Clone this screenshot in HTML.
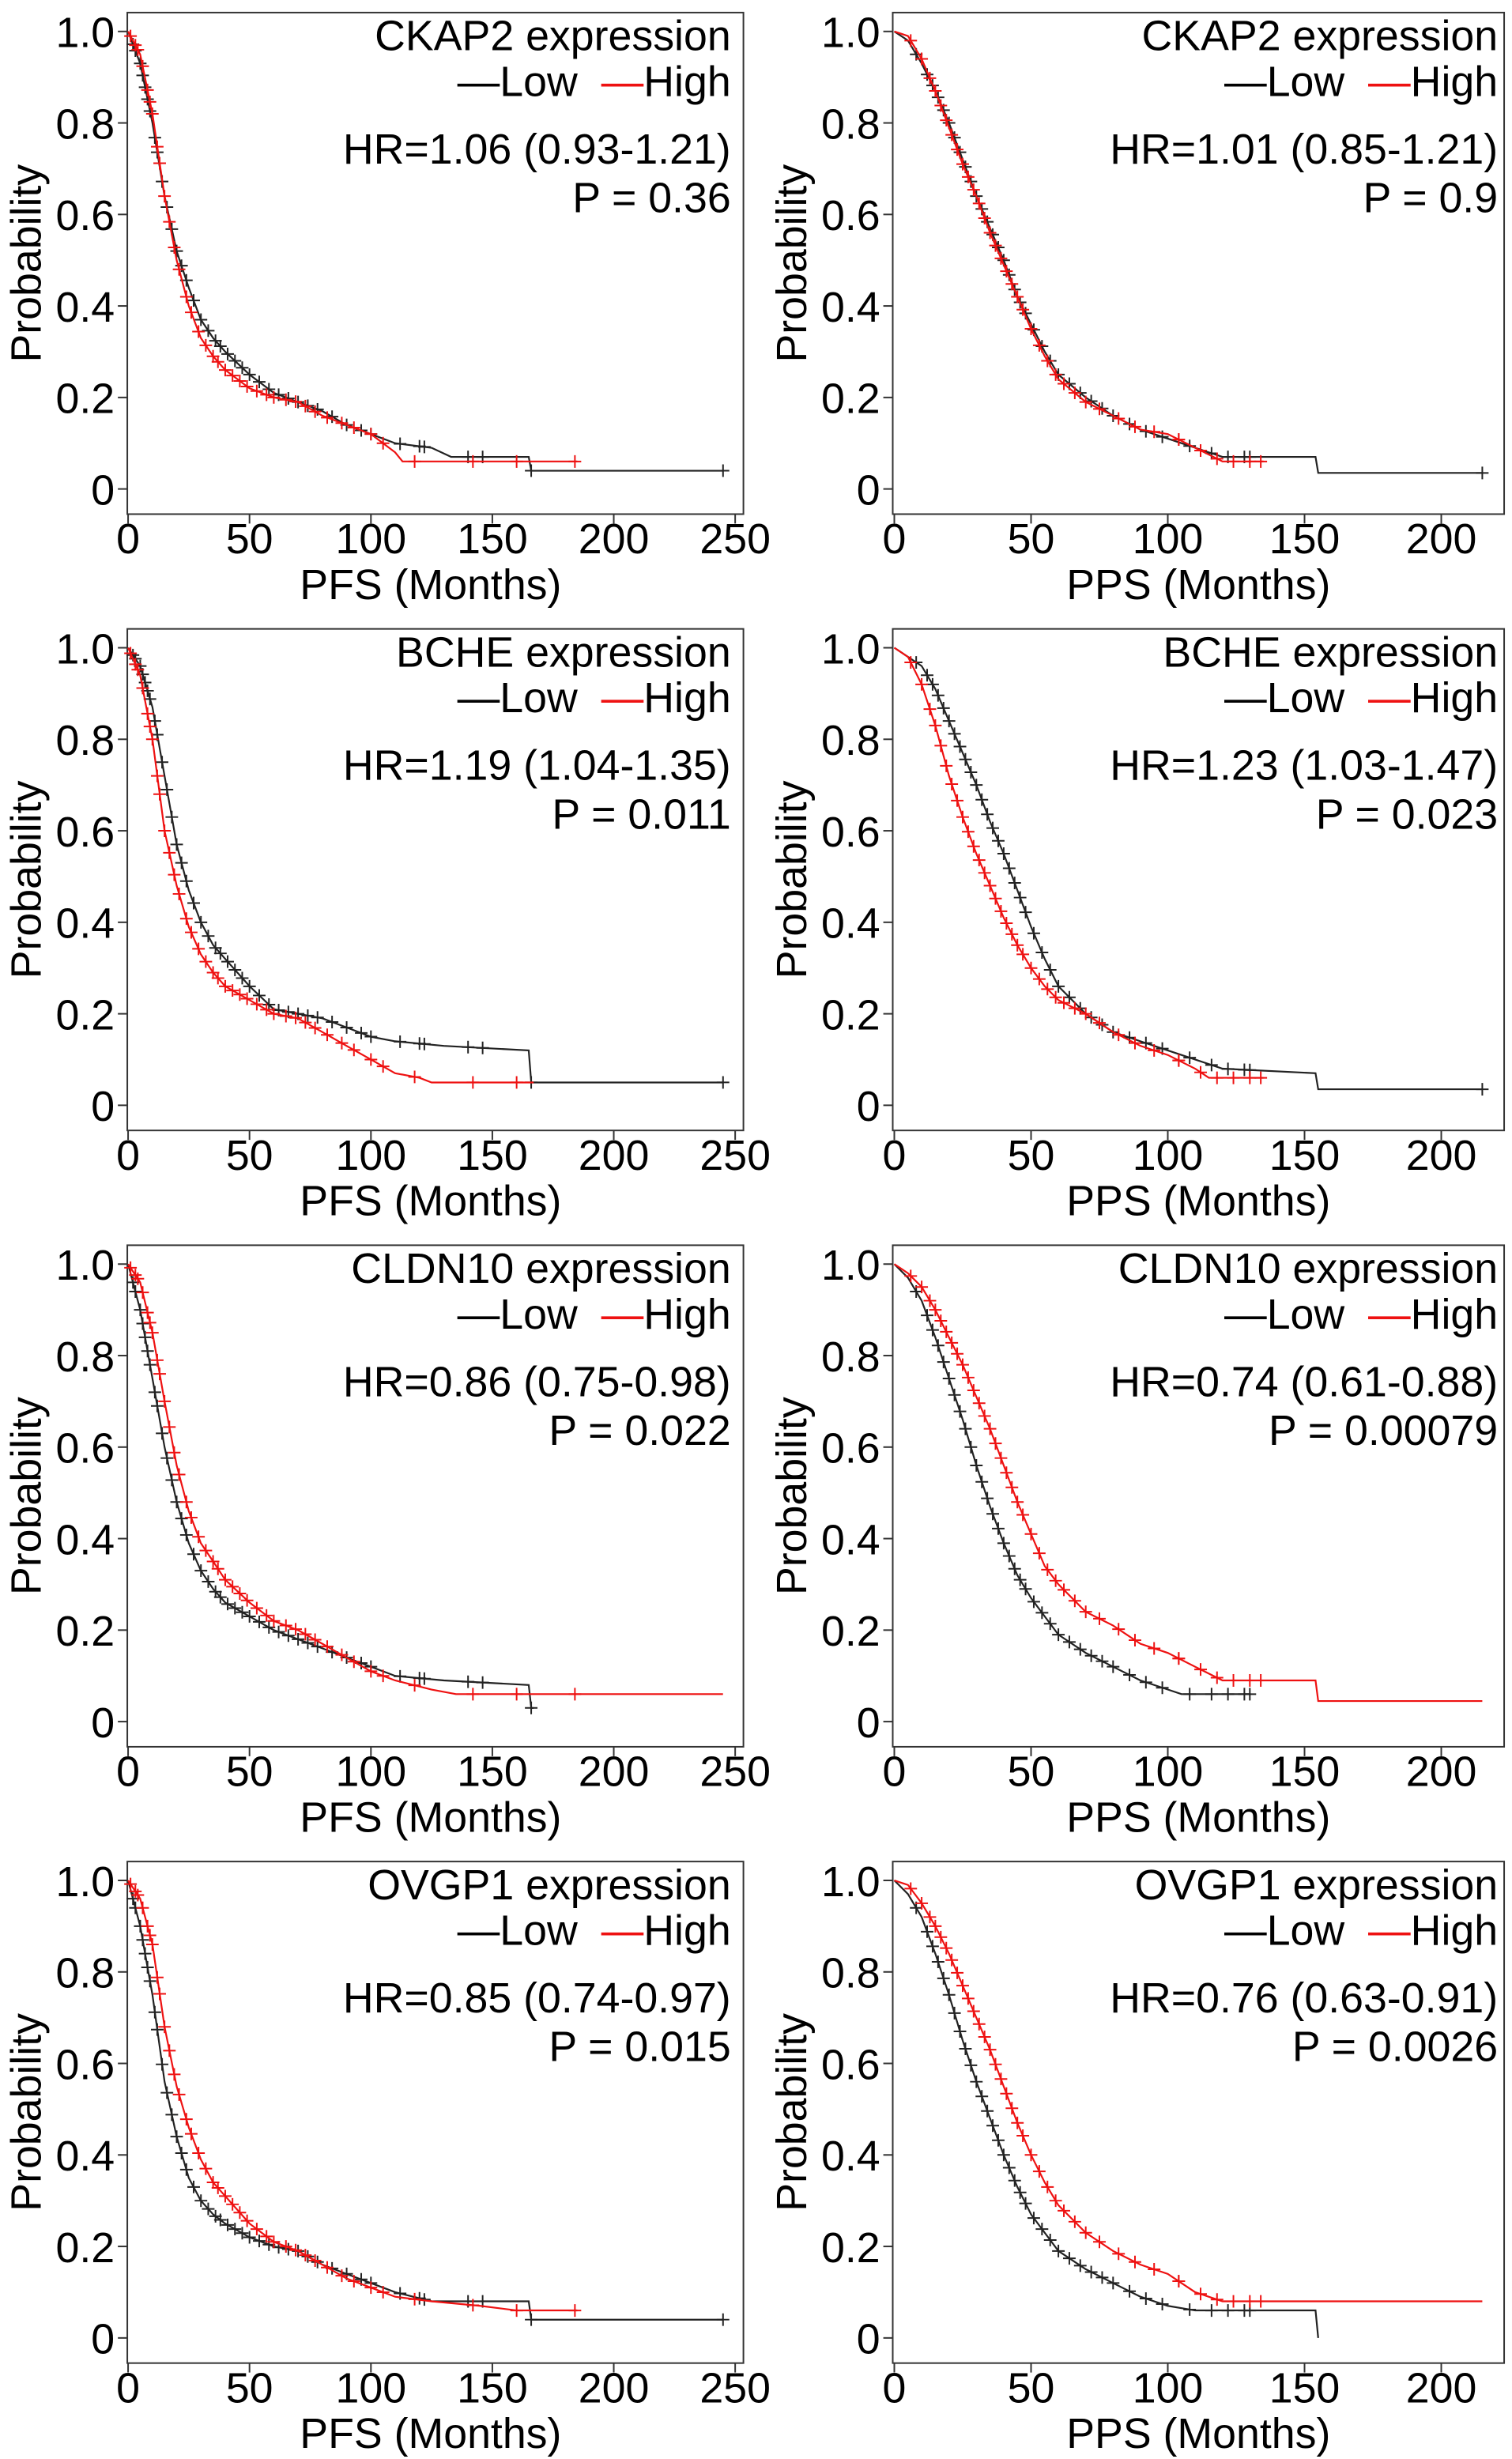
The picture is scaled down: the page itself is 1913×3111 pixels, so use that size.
<!DOCTYPE html>
<html><head><meta charset="utf-8"><title>KM curves</title>
<style>
html,body{margin:0;padding:0;background:#fff;}
svg{display:block;}
text{font-family:"Liberation Sans",Arial,sans-serif;fill:#000;}
</style></head>
<body>
<svg id="fig" xmlns="http://www.w3.org/2000/svg" width="1913" height="3111" viewBox="0 0 962 1564" preserveAspectRatio="none"></svg>
<script>
// ---- data (time in months, survival probability) ----
const genes = ["CKAP2","BCHE","CLDN10","OVGP1"];
const hrPFS = ["HR=1.06 (0.93-1.21)","HR=1.19 (1.04-1.35)","HR=0.86 (0.75-0.98)","HR=0.85 (0.74-0.97)"];
const pPFS = ["P = 0.36","P = 0.011","P = 0.022","P = 0.015"];
const hrPPS = ["HR=1.01 (0.85-1.21)","HR=1.23 (1.03-1.47)","HR=0.74 (0.61-0.88)","HR=0.76 (0.63-0.91)"];
const pPPS = ["P = 0.9","P = 0.023","P = 0.00079","P = 0.0026"];
const pfsTicks = [0,50,100,150,200,250];
const ppsTicks = [0,50,100,150,200];
const yTicks = [0,0.2,0.4,0.6,0.8,1.0];
const yTickLabels = ["0","0.2","0.4","0.6","0.8","1.0"];

const ckap2PfsLow = [[0,1],[5,0.93],[10,0.8],[15,0.64],[20,0.52],[25,0.44],[30,0.37],[35,0.33],[40,0.3],[50,0.25],[60,0.21],[70,0.19],[80,0.17],[90,0.14],[100,0.12],[110,0.1],[125,0.09],[133,0.07],[165,0.07],[166,0.04],[245,0.04]];
const ckap2PfsHigh = [[0,1],[5,0.95],[10,0.82],[15,0.64],[20,0.5],[25,0.4],[30,0.33],[35,0.29],[40,0.26],[50,0.22],[60,0.2],[70,0.19],[80,0.16],[90,0.14],[100,0.12],[105,0.1],[110,0.08],[113,0.06],[185,0.06]];
const ckap2PpsLow = [[0,1],[5,0.98],[10,0.93],[15,0.87],[20,0.8],[25,0.72],[30,0.64],[35,0.57],[40,0.5],[45,0.42],[50,0.36],[55,0.3],[60,0.25],[70,0.2],[80,0.16],[90,0.13],[100,0.11],[110,0.09],[120,0.07],[154,0.07],[155,0.035],[215,0.035]];
const ckap2PpsHigh = [[0,1],[5,0.99],[10,0.94],[15,0.87],[20,0.79],[25,0.71],[30,0.64],[35,0.56],[40,0.49],[45,0.42],[50,0.35],[55,0.29],[60,0.24],[70,0.19],[80,0.16],[90,0.13],[100,0.12],[110,0.09],[120,0.06],[135,0.06]];

const bchePfsLow = [[0,1],[5,0.96],[10,0.87],[15,0.72],[20,0.57],[25,0.47],[30,0.4],[35,0.35],[40,0.32],[50,0.26],[60,0.21],[70,0.2],[80,0.19],[90,0.17],[100,0.15],[110,0.14],[130,0.13],[165,0.12],[166,0.05],[245,0.05]];
const bchePfsHigh = [[0,1],[5,0.94],[10,0.8],[15,0.6],[20,0.48],[25,0.39],[30,0.33],[35,0.29],[40,0.26],[50,0.23],[60,0.2],[70,0.19],[80,0.16],[90,0.13],[100,0.1],[110,0.07],[120,0.06],[125,0.05],[167,0.05]];
const bchePpsLow = [[0,1],[10,0.96],[15,0.91],[20,0.84],[25,0.77],[30,0.7],[35,0.62],[40,0.55],[45,0.47],[50,0.39],[55,0.32],[60,0.26],[70,0.2],[80,0.16],[90,0.14],[100,0.12],[110,0.1],[120,0.08],[154,0.07],[155,0.035],[215,0.035]];
const bchePpsHigh = [[0,1],[5,0.98],[10,0.92],[15,0.83],[20,0.72],[25,0.63],[30,0.55],[35,0.48],[40,0.41],[45,0.35],[50,0.3],[55,0.26],[60,0.23],[70,0.2],[80,0.16],[90,0.13],[100,0.11],[110,0.08],[115,0.06],[135,0.06]];

const cldnPfsLow = [[0,1],[5,0.9],[10,0.75],[15,0.6],[20,0.48],[25,0.39],[30,0.33],[35,0.29],[40,0.26],[50,0.23],[60,0.2],[70,0.18],[80,0.16],[90,0.14],[100,0.12],[110,0.1],[130,0.09],[165,0.08],[166,0.03],[167,0.03]];
const cldnPfsHigh = [[0,1],[5,0.96],[10,0.85],[15,0.7],[20,0.56],[25,0.46],[30,0.39],[35,0.35],[40,0.31],[50,0.26],[60,0.22],[70,0.2],[80,0.17],[90,0.14],[100,0.11],[110,0.09],[125,0.07],[135,0.06],[245,0.06]];
const cldnPpsLow = [[0,1],[5,0.97],[10,0.92],[15,0.84],[20,0.75],[25,0.66],[30,0.56],[35,0.47],[40,0.39],[45,0.32],[50,0.27],[55,0.23],[60,0.19],[70,0.15],[80,0.12],[90,0.09],[100,0.07],[105,0.06],[130,0.06]];
const cldnPpsHigh = [[0,1],[5,0.98],[10,0.95],[15,0.9],[20,0.84],[25,0.78],[30,0.71],[35,0.64],[40,0.56],[45,0.48],[50,0.41],[55,0.34],[60,0.3],[70,0.24],[80,0.21],[90,0.17],[100,0.15],[110,0.12],[120,0.09],[154,0.09],[155,0.045],[215,0.045]];

const ovgpPfsLow = [[0,1],[5,0.9],[10,0.75],[15,0.56],[20,0.44],[25,0.35],[30,0.3],[35,0.27],[40,0.25],[50,0.22],[60,0.2],[70,0.19],[80,0.16],[90,0.14],[100,0.12],[110,0.1],[125,0.08],[165,0.08],[166,0.04],[245,0.04]];
const ovgpPfsHigh = [[0,1],[5,0.96],[10,0.86],[15,0.68],[20,0.55],[25,0.46],[30,0.39],[35,0.34],[40,0.31],[50,0.25],[60,0.21],[70,0.19],[80,0.16],[90,0.13],[100,0.11],[110,0.09],[125,0.08],[145,0.07],[160,0.06],[185,0.06]];
const ovgpPpsLow = [[0,1],[5,0.97],[10,0.92],[15,0.84],[20,0.75],[25,0.65],[30,0.56],[35,0.48],[40,0.4],[45,0.33],[50,0.27],[55,0.23],[60,0.19],[70,0.15],[80,0.12],[90,0.09],[100,0.07],[110,0.06],[154,0.06],[155,0]];
const ovgpPpsHigh = [[0,1],[5,0.99],[10,0.95],[15,0.9],[20,0.84],[25,0.77],[30,0.7],[35,0.63],[40,0.55],[45,0.47],[50,0.4],[55,0.34],[60,0.29],[70,0.23],[80,0.19],[90,0.16],[100,0.14],[110,0.1],[120,0.08],[215,0.08]];

// censor times
const censPfsA = [2,3,5,6,7,8,9,11,12,14,16,18,20,22,24,27,30,33,36,38,41,44,47,50,54,58,62,66,70,74,78,84,90,96];
const censPfsB = [1,3,4,6,8,9,10,12,13,15,17,19,21,24,26,29,32,35,37,40,43,46,49,53,57,60,65,69,73,77,82,88,93];
const censPpsA = [8,12,14,16,18,20,22,24,26,28,30,32,34,36,38,40,42,44,46,48,51,54,57,60,64,68,72,76,80,86,92,98];
const censPpsB = [6,10,13,15,17,19,21,23,25,27,29,31,33,35,37,39,41,43,45,47,50,53,56,59,62,66,70,75,82,88,95,104];
const censLowTailPfs = [100,112,120,122,140,146,166,245];
const censHighTailPfs = [100,105,118,142,160,184];
const censLowTailPps = [108,116,122,128,130,215];
const censHighTailPps = [104,112,118,124,130,134];

const panels = [
  {row:0,col:0,gene:0,hr:hrPFS[0],p:pPFS[0],low:ckap2PfsLow,high:ckap2PfsHigh,type:"PFS"},
  {row:0,col:1,gene:0,hr:hrPPS[0],p:pPPS[0],low:ckap2PpsLow,high:ckap2PpsHigh,type:"PPS"},
  {row:1,col:0,gene:1,hr:hrPFS[1],p:pPFS[1],low:bchePfsLow,high:bchePfsHigh,type:"PFS"},
  {row:1,col:1,gene:1,hr:hrPPS[1],p:pPPS[1],low:bchePpsLow,high:bchePpsHigh,type:"PPS"},
  {row:2,col:0,gene:2,hr:hrPFS[2],p:pPFS[2],low:cldnPfsLow,high:cldnPfsHigh,type:"PFS"},
  {row:2,col:1,gene:2,hr:hrPPS[2],p:pPPS[2],low:cldnPpsLow,high:cldnPpsHigh,type:"PPS"},
  {row:3,col:0,gene:3,hr:hrPFS[3],p:pPFS[3],low:ovgpPfsLow,high:ovgpPfsHigh,type:"PFS"},
  {row:3,col:1,gene:3,hr:hrPPS[3],p:pPPS[3],low:ovgpPpsLow,high:ovgpPpsHigh,type:"PPS"}
];

const NS = "http://www.w3.org/2000/svg";
const svg = document.getElementById("fig");
const FS = 27;
function mk(tag, attrs, parent){
  const e = document.createElementNS(NS, tag);
  for (const k in attrs) e.setAttribute(k, attrs[k]);
  (parent||svg).appendChild(e);
  return e;
}
function interp(curve, t){
  if (t <= curve[0][0]) return curve[0][1];
  for (let i=1;i<curve.length;i++){
    if (t <= curve[i][0]){
      const a=curve[i-1], b=curve[i];
      return a[1] + (b[1]-a[1])*(t-a[0])/(b[0]-a[0]);
    }
  }
  return null;
}

panels.forEach(function(P){
  const isPFS = P.type==="PFS";
  const boxL = isPFS?81:568, boxR = isPFS?473:957;
  const x0 = isPFS?81.5:569, ppm = isPFS?1.545:1.74;
  const off = P.row*392;
  const yTop = 20+off, yBot = 311+off;
  const boxT = 8+off, boxB = 327+off;
  const sx = t => x0 + t*ppm;
  const sy = v => yBot - v*(yBot-yTop);
  const g = mk("g",{});
  
  

  const box = mk("rect",{x:boxL,y:boxT,width:boxR-boxL,height:boxB-boxT,fill:"none",stroke:"#333","stroke-width":1},g);
  
  

  yTicks.forEach(function(v,i){
    const y = sy(v);
    const tk = mk("line",{x1:boxL-6,x2:boxL,y1:y,y2:y,stroke:"#333","stroke-width":1},g);
    
    
    const tl = mk("text",{x:boxL-8,y:y+10,"font-size":FS,"text-anchor":"end"},g);
    tl.textContent = yTickLabels[i];
    
    
  });
  (isPFS?pfsTicks:ppsTicks).forEach(function(t){
    const x = sx(t);
    const tk = mk("line",{x1:x,x2:x,y1:boxB,y2:boxB+6,stroke:"#333","stroke-width":1},g);
    
    
    const tl = mk("text",{x:x,y:boxB+25,"font-size":FS,"text-anchor":"middle"},g);
    tl.textContent = String(t);
    
    
  });
  const xt = mk("text",{x:(boxL+boxR)/2-(isPFS?3:0),y:boxB+54,"font-size":FS,"text-anchor":"middle"},g);
  xt.textContent = P.type + " (Months)";
  
  
  const yx = isPFS?26:513, yy = (boxT+boxB)/2;
  const yt = mk("text",{x:yx,y:yy,"font-size":FS,"text-anchor":"middle",transform:"rotate(-90 "+yx+" "+yy+")"},g);
  yt.textContent = "Probability";
  
  

  // curves
  [[P.low,"#222","low"],[P.high,"#ee1111","high"]].forEach(function(s,si){
    const pts = s[0].map(d => sx(d[0]).toFixed(1)+","+sy(d[1]).toFixed(1)).join(" ");
    const pl = mk("polyline",{points:pts,fill:"none",stroke:s[1],"stroke-width":1.1},g);
    
    
    const base = isPFS?(si?censPfsB:censPfsA):(si?censPpsB:censPpsA);
    const tail = isPFS?(si?censHighTailPfs:censLowTailPfs):(si?censHighTailPps:censLowTailPps);
    const times = base.concat(tail);
    const maxT = s[0][s[0].length-1][0];
    times.forEach(function(t){
      if (t>maxT) return;
      const v = interp(s[0],t); if (v===null) return;
      const x = sx(t), y = sy(v);
      const c = mk("path",{d:"M"+(x-4)+" "+y+"H"+(x+4)+"M"+x+" "+(y-4)+"V"+(y+4),stroke:s[1],"stroke-width":1,fill:"none"},g);
      
      
    });
  });

  // legend
  const rx = isPFS?465:953;
  const t1 = mk("text",{x:rx,y:32+off,"font-size":FS,"text-anchor":"end"},g);
  t1.textContent = genes[P.gene] + " expression";
  
  
  const t2 = mk("text",{x:rx,y:61+off,"font-size":FS,"text-anchor":"end"},g);
  
  
  const a = mk("tspan",{},t2); a.textContent="\u2014Low\u00a0\u00a0";
  
  
  const b = mk("tspan",{fill:"#ee1111"},t2); b.textContent="\u2014";
  
  
  const c = mk("tspan",{},t2); c.textContent="High";
  
  
  const t3 = mk("text",{x:rx,y:104+off,"font-size":FS,"text-anchor":"end"},g);
  t3.textContent = P.hr;
  
  
  const t4 = mk("text",{x:rx,y:135+off,"font-size":FS,"text-anchor":"end"},g);
  t4.textContent = P.p;
  
  
});
</script>
</body></html>
